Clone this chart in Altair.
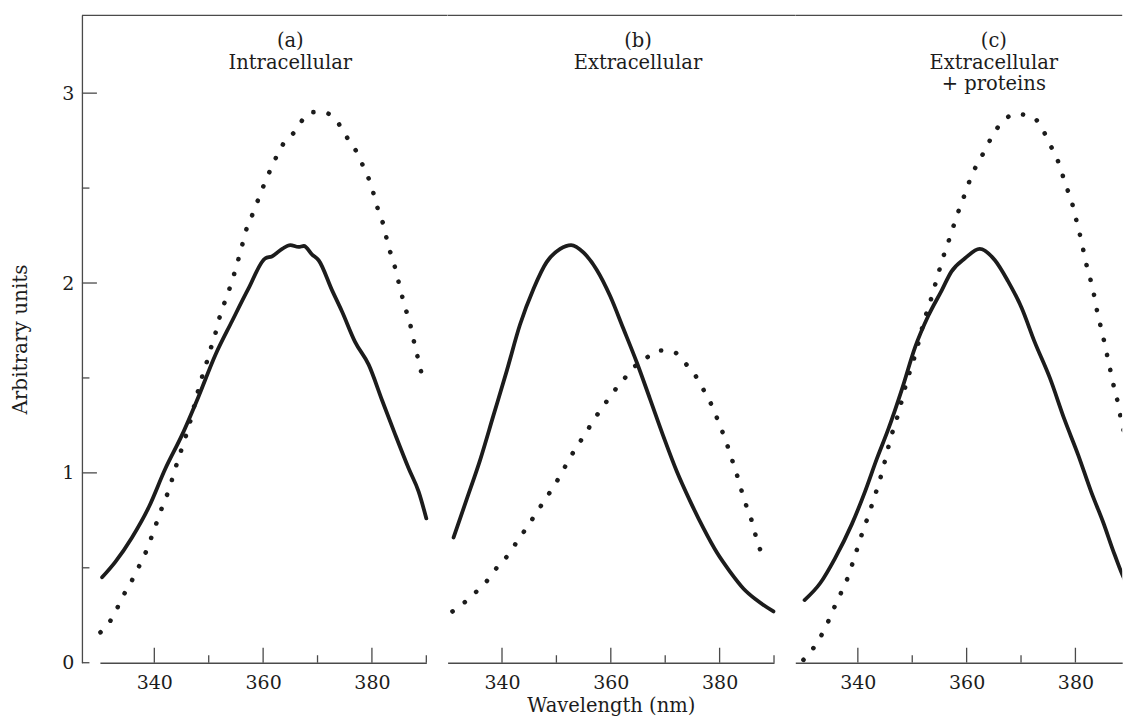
import altair as alt
import pandas as pd

FONT = "DejaVu Serif"
INK = "#1c1c1c"
AXIS = "#4a4a4a"

# ---------------- data ----------------
a_solid_w = [330.4, 332.8, 335.9, 339.0, 342.0, 345.1, 348.1, 351.2, 354.3, 357.3, 360.4, 361.6,
             363.5, 365.0, 366.5, 367.5, 369.0, 370.2, 372.7, 374.5, 376.9, 379.4, 381.9, 384.3,
             386.8, 388.6, 390.0]
a_solid_v = [0.45, 0.53, 0.66, 0.82, 1.02, 1.20, 1.40, 1.62, 1.80, 1.97, 2.13, 2.14,
             2.18, 2.20, 2.19, 2.195, 2.15, 2.12, 1.96, 1.85, 1.69, 1.57, 1.38, 1.20,
             1.02, 0.90, 0.76]

a_dot_w = [330.1, 331.9, 333.4, 334.7, 336.2, 337.4, 338.7, 339.7, 340.7, 341.7, 342.8, 343.6,
           344.5, 345.4, 346.3, 347.4, 348.5, 349.4, 350.2, 351.1, 351.8, 352.7, 353.7, 354.6,
           355.4, 356.2, 357.0, 358.1, 359.1, 360.2, 361.4, 362.7, 364.1, 365.6, 367.0, 368.7,
           370.8, 373.1, 374.7, 376.0, 377.4, 378.6, 379.8, 380.6, 381.4, 382.3, 382.9, 383.9,
           384.6, 385.3, 386.0, 386.9, 387.5, 388.2, 388.9, 389.5]
a_dot_v = [0.16, 0.22, 0.30, 0.375, 0.45, 0.52, 0.60, 0.68, 0.76, 0.84, 0.92, 1.00,
           1.08, 1.16, 1.24, 1.36, 1.48, 1.56, 1.64, 1.72, 1.80, 1.88, 1.96, 2.04,
           2.12, 2.205, 2.29, 2.365, 2.44, 2.52, 2.60, 2.68, 2.75, 2.79, 2.85, 2.90,
           2.90, 2.87, 2.80, 2.74, 2.68, 2.60, 2.52, 2.44, 2.36, 2.29, 2.205, 2.12,
           2.04, 1.96, 1.88, 1.80, 1.72, 1.635, 1.55, 1.48]

b_solid_w = [331.1, 333.5, 336.0, 338.4, 340.9, 343.3, 345.8, 348.2, 350.7, 352.7, 355.0, 357.4,
             359.9, 362.3, 364.8, 367.2, 369.7, 372.1, 374.6, 377.0, 379.5, 381.9, 384.4, 386.8,
             389.9]
b_solid_v = [0.66, 0.86, 1.07, 1.30, 1.54, 1.78, 1.97, 2.11, 2.18, 2.20, 2.16, 2.07,
             1.93, 1.76, 1.58, 1.39, 1.19, 1.01, 0.85, 0.71, 0.58, 0.48, 0.39, 0.33,
             0.27]

b_dot_w = [330.9, 333.2, 335.5, 337.5, 339.3, 341.2, 342.8, 344.5, 346.1, 347.7, 349.3, 350.8,
           352.3, 353.8, 355.4, 357.0, 358.6, 360.3, 362.2, 364.0, 366.3, 368.9, 371.7, 373.6,
           375.6, 377.0, 378.4, 379.5, 380.6, 381.6, 382.5, 383.4, 384.2, 385.1, 386.1, 386.8,
           387.7, 388.2]
b_dot_v = [0.27, 0.32, 0.38, 0.44, 0.51, 0.57, 0.64, 0.71, 0.78, 0.85, 0.92, 0.99,
           1.07, 1.14, 1.21, 1.285, 1.35, 1.42, 1.485, 1.55, 1.60, 1.645, 1.635, 1.58,
           1.51, 1.44, 1.365, 1.29, 1.21, 1.13, 1.05, 0.97, 0.89, 0.81, 0.73, 0.65,
           0.575, 0.53]

c_solid_w = [330.2, 333.1, 335.8, 338.9, 341.3, 343.5, 345.6, 348.1, 350.5, 353.0, 355.4, 357.2,
             359.7, 362.4, 365.2, 367.6, 370.1, 372.5, 375.3, 378.0, 380.5, 382.9, 385.1, 387.2,
             389.4, 390.0]
c_solid_v = [0.33, 0.42, 0.55, 0.73, 0.90, 1.075, 1.23, 1.44, 1.66, 1.83, 1.96, 2.06,
             2.13, 2.18, 2.12, 2.01, 1.87, 1.69, 1.50, 1.28, 1.095, 0.90, 0.74, 0.57,
             0.42, 0.40]

c_dot_w = [330.0, 331.9, 333.4, 334.6, 335.8, 337.1, 338.3, 339.2, 340.1, 341.0, 342.0, 342.9,
           343.8, 344.6, 345.3, 346.1, 347.0, 347.8, 348.5, 349.3, 350.2, 351.0, 351.7, 352.5,
           353.4, 354.2, 355.0, 355.9, 356.8, 357.7, 358.65, 359.7, 360.7, 362.0, 363.4, 364.8,
           366.5, 368.9, 371.7, 373.8, 375.1, 376.5, 377.4, 378.3, 379.3, 380.0, 380.7, 381.4,
           382.0, 382.75, 383.4, 384.0, 384.65, 385.3, 385.9, 386.5, 387.1, 387.8, 388.4, 389.05,
           389.7, 390.0]
c_dot_v = [0.015, 0.08, 0.15, 0.22, 0.30, 0.38, 0.46, 0.54, 0.62, 0.70, 0.78, 0.86,
           0.94, 1.02, 1.10, 1.19, 1.27, 1.35, 1.43, 1.51, 1.59, 1.67, 1.75, 1.83,
           1.91, 1.99, 2.07, 2.155, 2.23, 2.31, 2.39, 2.47, 2.55, 2.63, 2.70, 2.78,
           2.845, 2.89, 2.88, 2.82, 2.74, 2.665, 2.59, 2.51, 2.43, 2.35, 2.27, 2.18,
           2.10, 2.02, 1.94, 1.85, 1.77, 1.69, 1.61, 1.53, 1.45, 1.37, 1.28, 1.20,
           1.11, 1.08]

panel_lines = [["(a)", "Intracellular"],
               ["(b)", "Extracellular"],
               ["(c)", "Extracellular", "+ proteins"]]
title_x = [365, 365, 365]

x_major = [340, 360, 380]
x_minor = [350, 370, 390]
y_major = [1, 2, 3]
y_minor = [0, 0.5, 1.5, 2.5]
y_labels = [0, 1, 2, 3]

# panel (c) is cut at the page's right edge, as in the original
x_domains = [[330, 390], [330, 390], [328.5, 388.6]]

# ---------------- layout constants ----------------
Y_MAX = 3.41
H = 648
PX_PER_NM = 5.445
GAP = 21


def panel(i, solid_w, solid_v, dot_w, dot_v):
    xdom = x_domains[i]
    W = round((xdom[1] - xdom[0]) * PX_PER_NM, 1)
    xs = alt.Scale(domain=xdom, nice=False, zero=False)
    ys = alt.Scale(domain=[0, Y_MAX], nice=False, zero=True)
    clip = i == 2

    xaxis = alt.Axis(values=x_major, ticks=False, tickSize=0, grid=False,
                     domainColor=AXIS, domainWidth=1.3,
                     labelFont=FONT, labelFontSize=19, labelColor=INK, labelPadding=11,
                     title="Wavelength (nm)" if i == 1 else " ",
                     titleFont=FONT, titleFontSize=19.5, titleFontWeight="normal",
                     titleColor=INK, titlePadding=4)
    if i == 0:
        yaxis = alt.Axis(values=y_labels, ticks=False, tickSize=0, grid=False, offset=18,
                         domainColor=AXIS, domainWidth=1.3,
                         labelFont=FONT, labelFontSize=19, labelColor=INK, labelPadding=8,
                         title="Arbitrary units", titleFont=FONT, titleFontSize=20,
                         titleFontWeight="normal", titleColor=INK, titlePadding=31)
    else:
        yaxis = None

    def X(field):
        return alt.X(field, scale=xs, axis=xaxis)

    def Y(field):
        return alt.Y(field, scale=ys, axis=yaxis)

    solid = alt.Chart(pd.DataFrame({"w": solid_w, "v": solid_v})).mark_line(
        color=INK, strokeWidth=3.8, strokeJoin="round", strokeCap="round",
        interpolate="monotone", clip=clip
    ).encode(x=X("w:Q"), y=Y("v:Q"))
    dotted = alt.Chart(pd.DataFrame({"w": dot_w, "v": dot_v})).mark_line(
        color=INK, strokeWidth=4.6, strokeCap="round", strokeDash=[0.1, 15.3],
        interpolate="monotone", clip=clip
    ).encode(x=X("w:Q"), y=Y("v:Q"))
    xt_major = alt.Chart(pd.DataFrame({"w": x_major})).mark_rule(
        color=AXIS, strokeWidth=1.3, clip=clip
    ).encode(x=X("w:Q"), y=alt.value(H), y2=alt.value(H - 15))
    xt_minor = alt.Chart(pd.DataFrame({"w": x_minor})).mark_rule(
        color=AXIS, strokeWidth=1.3, clip=clip
    ).encode(x=X("w:Q"), y=alt.value(H), y2=alt.value(H - 7.5))

    top_left = -18 if i == 0 else 0
    top_right = W + GAP if i < 2 else W
    border = alt.Chart(pd.DataFrame({"k": [0]})).mark_rule(
        color=AXIS, strokeWidth=1.3
    ).encode(x=alt.value(top_left), x2=alt.value(top_right), y=alt.value(0))

    layers = [solid, dotted, xt_major, xt_minor, border]
    for k, line in enumerate(panel_lines[i]):
        layers.append(
            alt.Chart(pd.DataFrame({"w": [title_x[i]], "t": [line]})).mark_text(
                font=FONT, fontSize=19.5, color=INK, baseline="alphabetic", align="center"
            ).encode(x=X("w:Q"), y=alt.value(32 + 21.5 * k), text="t:N")
        )
    if i == 0:
        yt_major = alt.Chart(pd.DataFrame({"v": y_major})).mark_rule(
            color=AXIS, strokeWidth=1.3
        ).encode(y=Y("v:Q"), x=alt.value(-18), x2=alt.value(-3))
        yt_minor = alt.Chart(pd.DataFrame({"v": y_minor})).mark_rule(
            color=AXIS, strokeWidth=1.3
        ).encode(y=Y("v:Q"), x=alt.value(-18), x2=alt.value(-10.5))
        layers += [yt_major, yt_minor]
    return alt.layer(*layers).properties(width=W, height=H)


pa = panel(0, a_solid_w, a_solid_v, a_dot_w, a_dot_v)
pb = panel(1, b_solid_w, b_solid_v, b_dot_w, b_dot_v)
pc = panel(2, c_solid_w, c_solid_v, c_dot_w, c_dot_v)

chart = alt.hconcat(pa, pb, pc, spacing=GAP, bounds="flush").properties(
    padding={"left": 2, "top": 6, "right": 0, "bottom": 0},
    background="white",
).configure_view(strokeWidth=0)

chart.save("out.html", embed_options={"renderer": "svg", "actions": False})
